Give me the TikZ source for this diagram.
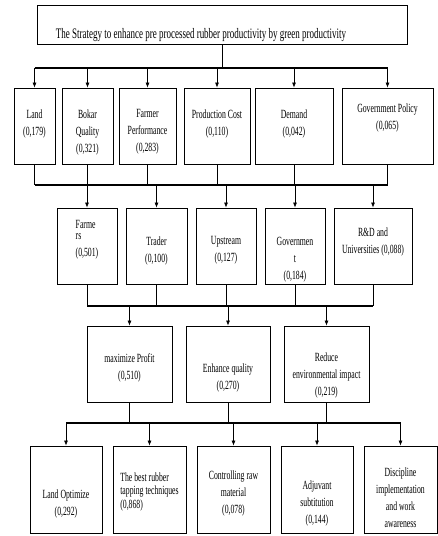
\documentclass[tikz,border=0pt]{standalone}
\usepackage{fontspec}
\setmainfont{Liberation Serif}[FakeStretch=0.62]
\usetikzlibrary{arrows.meta,positioning}

\begin{document}
\begin{tikzpicture}[x=1pt, y=-1pt, every node/.style={font=\fontsize{12.5}{17}\selectfont}]
    % Define styles
    \tikzset{
        box/.style={draw, rectangle, line width=0.8pt, inner sep=0pt},
        txt/.style={align=center, inner sep=0pt},
        link/.style={line width=0.7pt},
        bus/.style={line width=1.4pt},
        arrow/.style={-{Latex[length=5pt,width=4pt]}, line width=0.7pt}
    }
    \useasboundingbox (0,0) rectangle (437,536);

    % Goal box
    \node[box, minimum width=370pt, minimum height=39pt,
        label={[txt, xshift=-21pt, yshift=-10.5pt, font=\fontsize{14.5}{16}\selectfont]center:The Strategy to enhance pre processed rubber productivity by green productivity}] (goal) at (222,24.5) {};

    % Criteria
    \node[box, minimum width=41pt, minimum height=76pt, label={[txt, yshift=2.5pt]center:Land\\(0,179)}] (land) at (34.5,126) {};
    \node[box, minimum width=51pt, minimum height=76pt, label={[txt, yshift=-6pt]center:Bokar\\Quality\\(0,321)}] (bokar) at (87.5,126) {};
    \node[box, minimum width=57pt, minimum height=76pt, label={[txt, yshift=-6pt]center:Farmer\\Performance\\(0,283)}] (farmer) at (147.5,126) {};
    \node[box, minimum width=66pt, minimum height=76pt, label={[txt, yshift=2.5pt]center:Production Cost\\(0,110)}] (cost) at (217,126) {};
    \node[box, minimum width=78pt, minimum height=76pt, label={[txt, yshift=2.5pt]center:Demand\\(0,042)}] (demand) at (294,126) {};
    \node[box, minimum width=91pt, minimum height=76pt, label={[txt, yshift=8.5pt]center:Government Policy\\(0,065)}] (policy) at (387.5,126) {};

    % Actors
    \node[box, minimum width=60pt, minimum height=76pt, label={[txt, align=left, yshift=6.5pt]center:Farme\\[-6pt]rs\\(0,501)}] (farmers) at (87,246) {};
    \node[box, minimum width=61pt, minimum height=76pt, label={[txt, yshift=-4.5pt]center:Trader\\(0,100)}] (trader) at (156.5,246) {};
    \node[box, minimum width=60pt, minimum height=76pt, label={[txt, yshift=-4.5pt]center:Upstream\\(0,127)}] (upstream) at (226,246) {};
    \node[box, minimum width=60pt, minimum height=76pt, label={[txt, yshift=-13.5pt]center:Governmen\\t\\(0,184)}] (govt) at (295,246) {};
    \node[box, minimum width=78pt, minimum height=76pt, label={[txt, yshift=4pt]center:R\&D and\\Universities (0,088)}] (rnd) at (373,246) {};

    % Objectives
    \node[box, minimum width=85pt, minimum height=76pt, label={[txt, yshift=-4pt]center:maximize Profit\\(0,510)}] (profit) at (129.5,364) {};
    \node[box, minimum width=84pt, minimum height=76pt, label={[txt, yshift=-13.5pt]center:Enhance quality\\(0,270)}] (quality) at (228,364) {};
    \node[box, minimum width=85pt, minimum height=76pt, label={[txt, yshift=-11pt]center:Reduce\\environmental impact\\(0,219)}] (impact) at (326.5,364) {};

    % Alternatives
    \node[box, minimum width=72pt, minimum height=87pt, label={[txt, yshift=-14pt]center:Land Optimize\\(0,292)}] (landopt) at (66,489.5) {};
    \node[box, minimum width=73pt, minimum height=87pt, label={[txt, align=left, yshift=-2.5pt]center:The best rubber\\[-4pt]tapping techniques\\[-3pt](0,868)}] (tapping) at (149.5,489.5) {};
    \node[box, minimum width=73pt, minimum height=87pt, label={[txt, yshift=-3.5pt]center:Controlling raw\\material\\(0,078)}] (rawmat) at (233.5,489.5) {};
    \node[box, minimum width=72pt, minimum height=87pt, label={[txt, yshift=-14pt]center:Adjuvant\\subtitution\\(0,144)}] (adjuvant) at (317,489.5) {};
    \node[box, minimum width=73pt, minimum height=87pt, label={[txt, yshift=-8pt]center:Discipline\\implementation\\and work\\awareness}] (discipline) at (400.5,489.5) {};

    % Bus lines
    \coordinate (bus1) at (0,68);
    \coordinate (bus2) at (0,185);
    \coordinate (bus3) at (0,306);
    \coordinate (bus4) at (0,423);

    % Goal to criteria
    \draw[link] (goal.south) -- (goal.south |- bus1);
    \draw[bus] (land.north |- bus1) -- (policy.north |- bus1);
    \foreach \n in {land,bokar,farmer,cost,demand,policy}
        \draw[arrow] (\n.north |- bus1) -- (\n);

    % Criteria to actors
    \foreach \n in {land,bokar,farmer,cost,demand,policy}
        \draw[link] (\n) -- (\n.south |- bus2);
    \draw[bus] (land.south |- bus2) -- (policy.south |- bus2);
    \foreach \n in {farmers,trader,upstream,govt,rnd}
        \draw[arrow] (\n.north |- bus2) -- (\n);

    % Actors to objectives
    \foreach \n in {farmers,trader,upstream,govt,rnd}
        \draw[link] (\n) -- (\n.south |- bus3);
    \draw[bus] (farmers.south |- bus3) -- (rnd.south |- bus3);
    \foreach \n in {profit,quality,impact}
        \draw[arrow] (\n.north |- bus3) -- (\n);

    % Objectives to alternatives
    \foreach \n in {profit,quality,impact}
        \draw[link] (\n) -- (\n.south |- bus4);
    \draw[bus] (landopt.north |- bus4) -- (discipline.north |- bus4);
    \foreach \n in {landopt,tapping,rawmat,adjuvant,discipline}
        \draw[arrow] (\n.north |- bus4) -- (\n);
\end{tikzpicture}
\end{document}
